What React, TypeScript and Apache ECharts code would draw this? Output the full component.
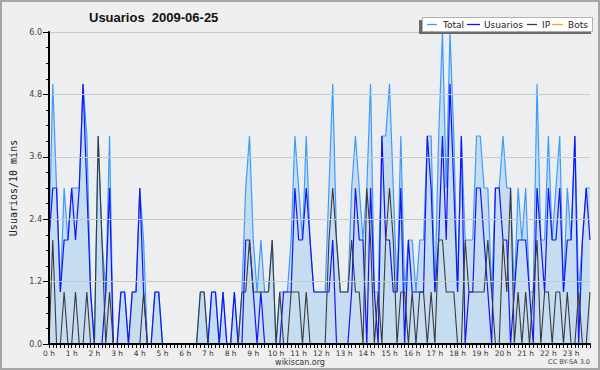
import React, { useEffect, useRef } from "react";
import * as echarts from "echarts";

const TITLE = "Usuarios  2009-06-25";
const SERIES_NAMES = ["Total", "Usuarios", "IP", "Bots"];
const HOURS = ["0 h","1 h","2 h","3 h","4 h","5 h","6 h","7 h","8 h","9 h","10 h","11 h","12 h","13 h","14 h","15 h","16 h","17 h","18 h","19 h","20 h","21 h","22 h","23 h"];
const MINUTES = ["00", "10", "20", "30", "40", "50"];

const TOTAL = [
  2,5,3,1,3,2,3,3,3,5, 4,1,0,4,2,1,4,0,0,1,
  1,0,1,1,3,2,0,0,1,1, 0,0,0,0,0,0,0,0,0,0,
  1,1,0,1,1,0,1,0,0,1, 0,1,3,4,2,1,2,1,1,2,
  0,1,1,1,2,4,3,2,4,2, 1,1,1,1,3,5,2,1,1,1,
  3,4,3,2,3,5,1,1,4,4, 5,3,1,4,1,2,2,1,2,2,
  4,4,1,4,6,3,6,4,1,4, 2,2,2,4,4,3,3,1,3,3,
  4,3,3,1,3,2,3,1,1,5, 2,2,4,2,3,4,1,3,2,4,
  1,2,3,3
];
const USUARIOS = [
  2,3,3,1,2,2,3,2,3,5, 3,1,0,0,0,1,3,0,0,1,
  1,0,1,1,3,1,0,0,1,1, 0,0,0,0,0,0,0,0,0,0,
  0,0,0,1,1,0,1,0,0,1, 0,0,2,2,1,0,1,0,0,0,
  0,0,1,1,1,3,2,2,3,2, 1,1,1,1,1,2,0,0,0,0,
  1,3,2,2,0,3,1,0,4,2, 2,1,1,3,0,2,1,1,1,1,
  4,3,1,2,4,2,5,3,1,4, 0,1,1,3,3,2,1,0,3,3,
  2,2,0,1,2,2,2,1,0,3, 2,1,3,2,2,3,1,2,2,4,
  0,2,3,2
];
const IP = [
  0,2,0,0,1,0,0,1,0,0, 1,0,0,4,2,0,1,0,0,0,
  0,0,0,0,0,1,0,0,0,0, 0,0,0,0,0,0,0,0,0,0,
  1,1,0,0,0,0,0,0,0,0, 0,1,1,2,1,1,1,1,1,2,
  0,1,0,0,1,1,1,0,1,0, 0,0,0,0,2,3,2,1,1,1,
  2,1,1,0,3,2,0,1,0,2, 3,2,0,1,1,0,1,0,1,1,
  0,1,0,2,2,1,1,1,0,0, 2,1,1,1,1,1,2,1,0,0,
  2,1,3,0,1,0,1,0,1,2, 0,1,1,0,1,1,0,1,0,0,
  1,0,0,1
];
const BOTS = [
  0,0,0,0,0,0,0,0,0,0, 0,0,0,0,0,0,0,0,0,0,
  0,0,0,0,0,0,0,0,0,0, 0,0,0,0,0,0,0,0,0,0,
  0,0,0,0,0,0,0,0,0,0, 0,0,0,0,0,0,0,0,0,0,
  0,0,0,0,0,0,0,0,0,0, 0,0,0,0,0,0,0,0,0,0,
  0,0,0,0,0,0,0,0,0,0, 0,0,0,0,0,0,0,0,0,0,
  0,0,0,0,0,0,0,0,0,0, 0,0,0,0,0,0,0,0,0,0,
  0,0,0,0,0,0,0,0,0,0, 0,0,0,0,0,0,0,0,0,0,
  0,0,0,0
];

const CATEGORIES: string[] = [];
HOURS.forEach((h, hi) => MINUTES.forEach((m) => CATEGORIES.push(hi + ":" + m)));

const COLORS = ["#3d9bff", "#1414f5", "#3a3a3a", "#ffa500"];
// legend sample start x, text start x
const LEGEND_LINES = [[427, 437], [467, 480], [527, 537], [552, 563]];
const LEGEND_TEXT_X = [443, 484, 542, 568];

export default function App() {
  const ref = useRef<HTMLDivElement>(null);
  useEffect(() => {
    if (!ref.current) return;
    const chart = echarts.init(ref.current, null, { renderer: "svg" });
    const font = "DejaVu Sans";
    const legendY = 24.5;
    const legendItems: any[] = [];
    SERIES_NAMES.forEach((n, i) => {
      legendItems.push({
        type: "line", z: 22, silent: true,
        shape: { x1: LEGEND_LINES[i][0], y1: legendY, x2: LEGEND_LINES[i][1], y2: legendY },
        style: { stroke: COLORS[i], lineWidth: 1.3 },
      });
      legendItems.push({
        type: "text", z: 22, silent: true, x: LEGEND_TEXT_X[i], y: legendY,
        style: { text: n, fontFamily: font, fontSize: 9, fill: "#222", textAlign: "left", textVerticalAlign: "middle" },
      });
    });
    chart.setOption({
      animation: false,
      backgroundColor: "#efefef",
      textStyle: { fontFamily: font },
      title: {
        text: TITLE,
        left: 84,
        top: 6,
        textStyle: { fontFamily: "Liberation Sans", fontWeight: "bold", fontSize: 13, color: "#111" },
      },
      graphic: [
        { type: "rect", z: 0, silent: true, shape: { x: 1, y: 1, width: 598, height: 368 }, style: { fill: "none", stroke: "#a6a6a6", lineWidth: 2 } },
        { type: "rect", z: 20, silent: true, shape: { x: 419, y: 20, width: 172, height: 14 }, style: { fill: "#6a6a6a" } },
        { type: "rect", z: 21, silent: true, shape: { x: 422.5, y: 17.5, width: 170, height: 14 }, style: { fill: "#ffffff", stroke: "#b0b0b0", lineWidth: 1 } },
        ...legendItems,
        { type: "text", z: 21, silent: true, x: 300, y: 362, style: { text: "wikiscan.org", fontFamily: font, fontSize: 8, fill: "#333", textAlign: "center", textVerticalAlign: "middle" } },
        { type: "text", z: 21, silent: true, x: 590, y: 362, style: { text: "CC BY-SA 3.0", fontFamily: font, fontSize: 6.5, fill: "#444", textAlign: "right", textVerticalAlign: "middle" } },
      ],
      grid: { left: 46, top: 32, right: 10, bottom: 26, show: true, backgroundColor: "#edeef0", borderWidth: 0 },
      xAxis: {
        type: "category",
        z: 5,
        data: CATEGORIES,
        boundaryGap: false,
        axisLine: { lineStyle: { color: "#000", width: 2 } },
        axisTick: { interval: 0, length: 4, lineStyle: { color: "#000", width: 1 } },
        axisLabel: {
          interval: 5,
          margin: 5,
          fontSize: 7.5,
          color: "#333",
          fontFamily: font,
          formatter: (v: string, i: number) => HOURS[Math.floor(i / 6)],
        },
        splitLine: { show: false },
      },
      yAxis: {
        type: "value",
        z: 5,
        min: 0,
        max: 6,
        interval: 1.2,
        name: "Usuarios/10 mins",
        nameLocation: "middle",
        nameRotate: 90,
        nameGap: 31,
        nameTextStyle: { fontFamily: "DejaVu Sans Mono", fontSize: 10, color: "#222" },
        axisLine: { show: true, lineStyle: { color: "#000", width: 2 } },
        axisTick: { show: true, length: 6, lineStyle: { color: "#000" } },
        minorTick: { show: true, splitNumber: 4, length: 3, lineStyle: { color: "#000" } },
        axisLabel: { fontSize: 8, color: "#444", margin: 7, fontFamily: font, formatter: (v: number) => v.toFixed(1) },
        splitLine: { lineStyle: { color: "#c9c9c9", width: 1 } },
      },
      series: [
        {
          name: SERIES_NAMES[0], type: "line", data: TOTAL, symbol: "none", z: 2,
          lineStyle: { color: COLORS[0], width: 1.2 }, itemStyle: { color: COLORS[0] },
          areaStyle: { color: "#c5dcf1", opacity: 1 },
        },
        {
          name: SERIES_NAMES[1], type: "line", data: USUARIOS, symbol: "none", z: 3,
          lineStyle: { color: COLORS[1], width: 1.2 }, itemStyle: { color: COLORS[1] },
        },
        {
          name: SERIES_NAMES[2], type: "line", data: IP, symbol: "none", z: 4,
          lineStyle: { color: COLORS[2], width: 1.1 }, itemStyle: { color: COLORS[2] },
        },
        {
          name: SERIES_NAMES[3], type: "line", data: BOTS, symbol: "none", z: 1,
          lineStyle: { color: COLORS[3], width: 1.1 }, itemStyle: { color: COLORS[3] },
        },
      ],
    });
    return () => chart.dispose();
  }, []);
  return <div ref={ref} style={{ position: "fixed", left: 0, top: 0, width: 600, height: 370 }} />;
}
